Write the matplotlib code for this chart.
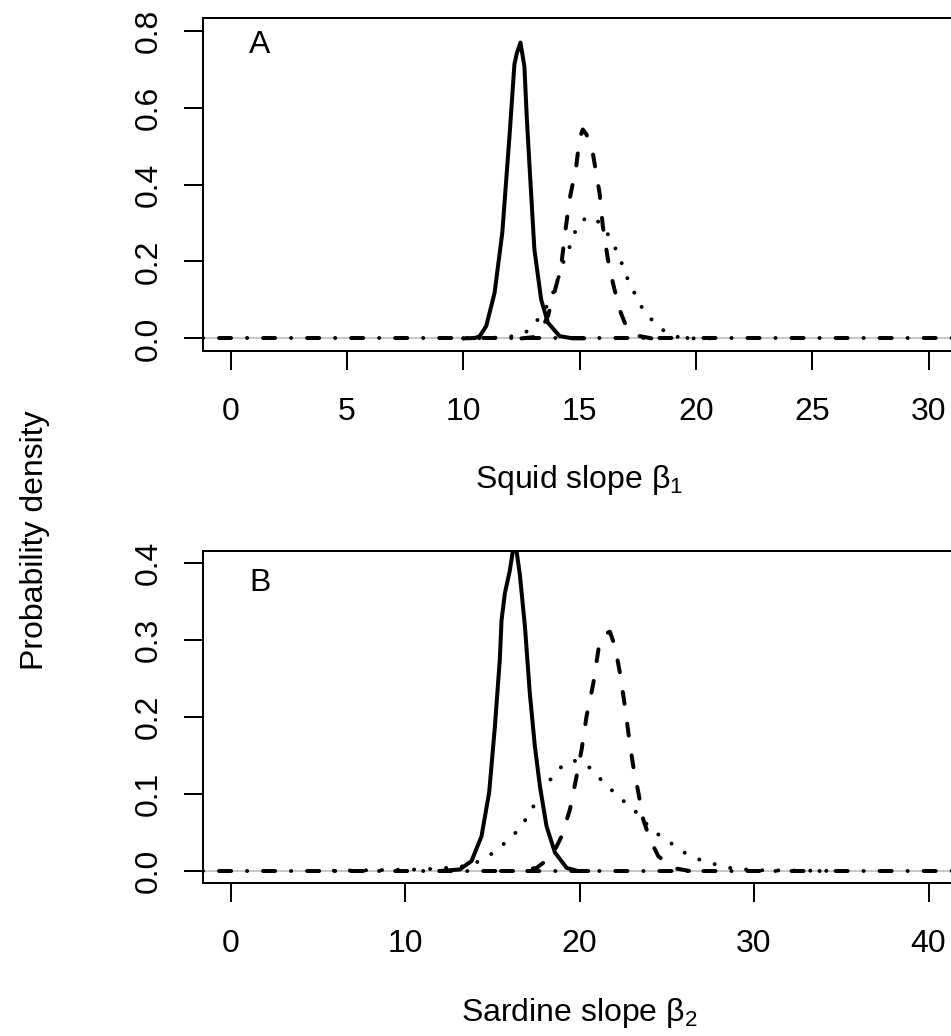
"""Posterior densities of the squid and sardine slopes (two stacked panels)."""
import matplotlib
matplotlib.use("Agg")
import matplotlib.pyplot as plt

plt.rcParams["font.family"] = ["Liberation Sans", "DejaVu Sans"]
plt.rcParams["mathtext.fontset"] = "custom"
plt.rcParams["mathtext.rm"] = "Liberation Sans"
plt.rcParams["mathtext.it"] = "Liberation Sans:italic"

FS = 23          # ~32 px em at 100 dpi
LW = 2.88        # curve width (4 px)
BOX_LW = 1.44

# ---- panel A: squid slope beta_1 ----
a_solid_x = [10.0, 10.5, 10.7, 10.99, 11.35, 11.68, 12.0, 12.2, 12.3, 12.46, 12.63,
             12.73, 12.85, 12.95, 13.06, 13.35, 13.64, 14.14, 14.7, 15.2]
a_solid_y = [0.0, 0.001, 0.005, 0.032, 0.119, 0.275, 0.535, 0.712, 0.74, 0.769, 0.707,
             0.577, 0.448, 0.344, 0.231, 0.101, 0.041, 0.006, 0.0, 0.0]

a_dash_x = [12.5, 13.0, 13.3, 13.64, 13.92, 14.21, 14.38, 14.57, 14.86, 15.0, 15.14,
            15.3, 15.57, 15.86, 16.0, 16.22, 16.43, 16.72, 17.0, 17.58, 18.1, 18.6]
a_dash_y = [0.0, 0.003, 0.015, 0.058, 0.119, 0.188, 0.275, 0.361, 0.448, 0.52, 0.543,
            0.53, 0.482, 0.378, 0.292, 0.205, 0.145, 0.075, 0.032, 0.006, 0.0, 0.0]

a_dot_x = [10.0, 11.0, 11.5, 12.2, 12.78, 13.28, 13.64, 13.92, 14.14, 14.35, 14.64,
           14.86, 15.1, 15.36, 15.7, 16.0, 16.29, 16.6, 16.86, 17.12, 17.43, 17.76,
           18.22, 18.72, 19.2, 19.8, 21.0]
a_dot_y = [0.0, 0.001, 0.002, 0.006, 0.019, 0.054, 0.088, 0.127, 0.166, 0.207, 0.247,
           0.286, 0.305, 0.316, 0.31, 0.29, 0.264, 0.227, 0.188, 0.146, 0.11, 0.071,
           0.041, 0.015, 0.004, 0.0, 0.0]

a_prior_x = [-1.2, 31.2]
a_prior_y = [0.0, 0.0]

# ---- panel B: sardine slope beta_2 ----
b_solid_x = [12.0, 13.14, 13.81, 14.38, 14.82, 15.15, 15.43, 15.53, 15.72, 16.0, 16.18,
             16.28, 16.39, 16.58, 16.87, 17.15, 17.44, 17.73, 18.11, 18.59, 19.26,
             19.9, 20.5]
b_solid_y = [0.0, 0.002, 0.013, 0.045, 0.102, 0.188, 0.275, 0.326, 0.361, 0.39, 0.416,
             0.43, 0.416, 0.385, 0.318, 0.231, 0.162, 0.11, 0.058, 0.024, 0.004,
             0.0, 0.0]

b_dash_x = [15.5, 16.4, 17.54, 18.4, 18.97, 19.45, 19.83, 20.12, 20.4, 20.79, 21.11,
            21.45, 21.74, 22.03, 22.32, 22.6, 22.85, 23.08, 23.37, 23.65, 24.04,
            24.52, 25.37, 26.3, 27.0]
b_dash_y = [0.0, 0.0, 0.004, 0.019, 0.045, 0.08, 0.123, 0.158, 0.201, 0.244, 0.292,
            0.308, 0.311, 0.292, 0.257, 0.214, 0.171, 0.136, 0.102, 0.067, 0.041,
            0.019, 0.004, 0.0, 0.0]

b_dot_x = [5.0, 8.0, 11.0, 13.1, 14.0, 14.82, 15.55, 16.24, 16.83, 17.31, 17.73, 18.3,
           18.88, 19.64, 20.5, 21.13, 21.8, 22.47, 23.18, 23.8, 24.48, 25.25, 26.0,
           26.85, 27.73, 28.6, 30.0, 35.0]
b_dot_y = [0.0, 0.001, 0.002, 0.005, 0.01, 0.02, 0.033, 0.047, 0.064, 0.082, 0.1, 0.118,
           0.134, 0.144, 0.136, 0.121, 0.106, 0.092, 0.078, 0.062, 0.048, 0.036, 0.024,
           0.015, 0.009, 0.004, 0.001, 0.0]

b_prior_x = [-1.6, 41.6]
b_prior_y = [0.0, 0.0]

a_xticks = [0, 5, 10, 15, 20, 25, 30]
a_yticks = [0.0, 0.2, 0.4, 0.6, 0.8]
b_xticks = [0, 10, 20, 30, 40]
b_yticks = [0.0, 0.1, 0.2, 0.3, 0.4]

STYLES = {
    "solid": dict(linestyle="-", solid_capstyle="round", solid_joinstyle="round"),
    "dash": dict(linestyle=(0, (3, 5)), dash_capstyle="round"),
    "dot": dict(linestyle=(0, (0.01, 4)), dash_capstyle="round"),
    "dotdash": dict(linestyle=(0, (0.01, 4, 3, 4)), dash_capstyle="round"),
}


def draw_panel(ax, curves, xlim, ylim, xticks, yticks, xlabel, tag, tag_y):
    ax.axhline(0, color="#bebebe", lw=1.2, zorder=1)
    for (x, y), key in curves:
        ax.plot(x, y, color="black", lw=LW, zorder=2, **STYLES[key])
    ax.set_xlim(*xlim)
    ax.set_ylim(*ylim)
    ax.set_xticks(xticks)
    ax.set_xticklabels([str(t) for t in xticks])
    ax.set_yticks(yticks)
    ax.set_yticklabels([f"{t:.1f}" for t in yticks], rotation=90, va="center", ha="right")
    ax.tick_params(axis="x", length=13.7, width=BOX_LW, pad=19.5, labelsize=FS)
    ax.tick_params(axis="y", length=13.7, width=BOX_LW, pad=14, labelsize=FS)
    for sp in ax.spines.values():
        sp.set_linewidth(BOX_LW)
    ax.set_xlabel(xlabel, fontsize=FS, va="baseline")
    ax.xaxis.set_label_coords(0.5, -0.414)
    ax.text(0.076, tag_y, tag, transform=ax.transAxes, fontsize=FS,
            ha="center", va="center")


fig = plt.figure(figsize=(9.51, 10.36), dpi=100)
ax_a = fig.add_axes([0.2131, 0.6615, 0.7926, 0.3208])
ax_b = fig.add_axes([0.2131, 0.1474, 0.7926, 0.3208])

draw_panel(ax_a,
           [((a_solid_x, a_solid_y), "solid"), ((a_dash_x, a_dash_y), "dash"),
            ((a_dot_x, a_dot_y), "dot"), ((a_prior_x, a_prior_y), "dotdash")],
           (-1.2, 31.2), (-0.032, 0.832), a_xticks, a_yticks,
           r"Squid slope $\mathregular{\beta_1}$", "A", 0.92)
draw_panel(ax_b,
           [((b_solid_x, b_solid_y), "solid"), ((b_dash_x, b_dash_y), "dash"),
            ((b_dot_x, b_dot_y), "dot"), ((b_prior_x, b_prior_y), "dotdash")],
           (-1.6, 41.6), (-0.016, 0.416), b_xticks, b_yticks,
           r"Sardine slope $\mathregular{\beta_2}$", "B", 0.905)

fig.text(35 / 951, 1 - 540 / 1036, "Probability density", rotation=90,
         ha="center", va="center", fontsize=FS)

fig.savefig("out.png", dpi=100)
